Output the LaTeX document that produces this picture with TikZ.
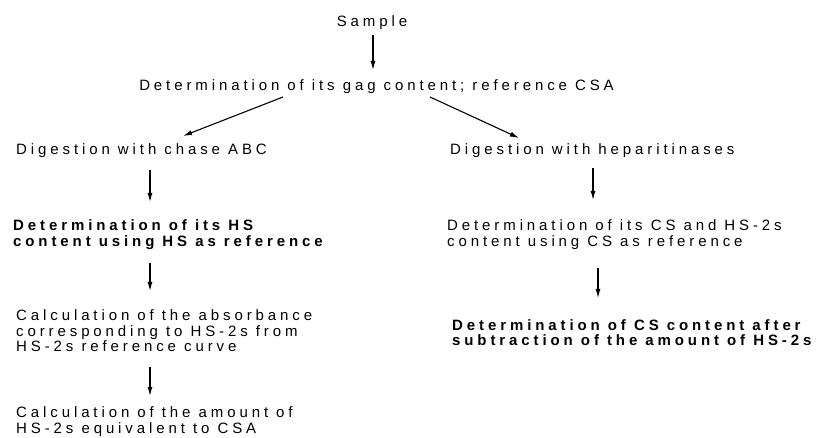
\documentclass[tikz,border=0pt]{standalone}
\usepackage{fontspec}
\setmainfont{Liberation Sans}[LetterSpace=26]
\usetikzlibrary{arrows.meta,calc}
\begin{document}
\begin{tikzpicture}[x=1pt,y=-1pt,
  txt/.style={inner sep=0pt, font=\fontsize{15}{15.6}\selectfont, align=left, anchor=north west},
  btxt/.style={txt, font=\fontsize{15}{15.6}\selectfont\bfseries},
  arr/.style={-{Latex[length=9pt,width=5pt]}, line width=1.1pt}]
\fill[white] (0,0) rectangle (819,438);
\useasboundingbox (0,0) rectangle (819,438);
% nodes
\node[txt, anchor=north] (sample) at (372,15) {Sample};
\node[txt, anchor=north] (gag) at (376.5,79.5) {Determination of its gag content; reference CSA};
\node[txt] (dig1) at (16,143) {Digestion with chase ABC};
\node[txt] (dig2) at (450,143.5) {Digestion with heparitinases};
\node[btxt] (hs) at (13,219.5) {Determination of its HS\\content using HS as reference};
\node[txt] (abs) at (16,309.5) {Calculation of the absorbance\\corresponding to HS-2s from\\HS-2s reference curve};
\node[txt] (amt) at (16,406.5) {Calculation of the amount of\\HS-2s equivalent to CSA};
\node[txt] (cs) at (447,219.5) {Determination of its CS and HS-2s\\content using CS as reference};
\node[btxt] (csb) at (452,319) {Determination of CS content after\\subtraction of the amount of HS-2s};
% connectors
\draw[arr] ($(sample.north)+(1,20)$) -- ($(gag.north)+(-3.5,-9.5)$);
\draw[arr] ($(gag.north)+(-93.5,17.5)$) -- ($(dig1.north west)+(167,-7)$);
\draw[arr] ($(gag.north)+(53.5,17.5)$) -- ($(dig2.north west)+(69,-5.5)$);
\draw[arr] ($(dig1.north west)+(134,27)$) -- ($(hs.north west)+(137,-17.5)$);
\draw[arr] ($(hs.north west)+(137,43.5)$) -- ($(abs.north west)+(134,-18.5)$);
\draw[arr] ($(abs.north west)+(134,57.5)$) -- ($(amt.north west)+(134,-10.5)$);
\draw[arr] ($(dig2.north west)+(143,24.5)$) -- ($(cs.north west)+(146,-19.5)$);
\draw[arr] ($(cs.north west)+(151,48.5)$) -- ($(csb.north west)+(146,-21)$);
\end{tikzpicture}
\end{document}
